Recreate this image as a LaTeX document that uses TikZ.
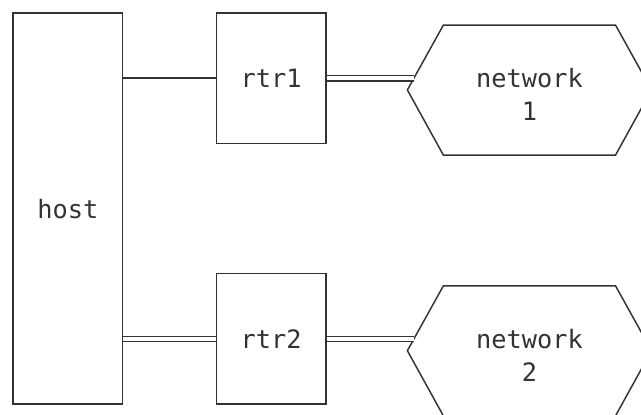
\documentclass[tikz,border=0pt]{standalone}
\usepackage{fontspec}
\setmonofont{DejaVu Sans Mono}
\definecolor{inkgray}{RGB}{51, 51, 51}
\usepackage{tikz}
\usetikzlibrary{positioning, calc}

\begin{document}
\begin{tikzpicture}[x=11.74pt, y=-24.45pt, inkgray,
    every node/.style={font=\ttfamily\fontsize{19}{24.45}\selectfont, text=inkgray},
    box/.style={draw, line width=1.1pt, inner sep=0pt, minimum width=82.18pt},
    link/.style={line width=1.1pt},
    trunk/.style={line width=1.1pt, double, double distance=2.8pt}]
  \useasboundingbox (-0.831, -0.399) rectangle (40.128, 12.331);

  % Host and routers
  \node[box, minimum height=293.4pt] (host) at (3.5, 6) {host};
  \node[box, minimum height=97.8pt] (rtr1) at (16.5, 2) {rtr1};
  \node[box, minimum height=97.8pt] (rtr2) at (16.5, 10) {rtr2};

  % Network 1
  \draw[link] (27.5, 0.37) -- (38.5, 0.37) -- (40.8, 2.36) -- (38.5, 4.36)
    -- (27.5, 4.36) -- (25.2, 2.36) -- cycle;
  \node[align=center] (net1) at (33, 2.5) {network\\1};
  \coordinate (net1in) at (25.62, 2);

  % Network 2
  \draw[link] (27.5, 8.37) -- (38.5, 8.37) -- (40.8, 10.36) -- (38.5, 12.36)
    -- (27.5, 12.36) -- (25.2, 10.36) -- cycle;
  \node[align=center] (net2) at (33, 10.5) {network\\2};
  \coordinate (net2in) at (25.62, 10);

  % Links
  \draw[link] (host.east |- rtr1.west) -- (rtr1.west);
  \draw[trunk] (host.east |- rtr2.west) -- (rtr2.west);
  \draw[trunk] (rtr1.east) -- (net1in);
  \draw[trunk] (rtr2.east) -- (net2in);
\end{tikzpicture}
\end{document}
